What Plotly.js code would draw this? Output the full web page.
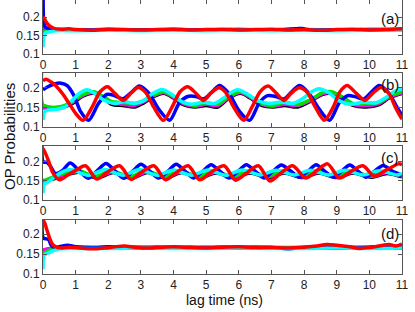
<!DOCTYPE html>
<html><head><meta charset="utf-8">
<script src="https://cdn.plot.ly/plotly-3.0.1.min.js"></script>
<style>html,body{margin:0;padding:0;background:#fff}#chart{width:415px;height:312px}</style>
</head><body><div id="chart"></div>
<script>
// ---------- Panel (a) ----------
const aRedT = [0,0.05,0.1,0.2,0.3,0.4,0.6,0.8,1.0,1.5,2,2.5,3,3.5,4,4.5,5,5.5,6,6.5,7,7.5,8,8.5,9,9.5,10,10.5,11];
const aRedV = [0.2,0.195,0.186,0.176,0.171,0.168,0.167,0.168,0.166,0.164,0.167,0.166,0.165,0.166,0.167,0.165,0.166,0.167,0.165,0.166,0.167,0.165,0.166,0.164,0.166,0.167,0.165,0.166,0.168];
const aBlueT = [0,0.02,0.05,0.1,0.2,0.3,0.5,1,2,3,4,5,6,7,7.85,7.95,8.1,9,10,11];
const aBlueV = [0.3,0.19,0.176,0.171,0.168,0.166,0.166,0.165,0.166,0.165,0.166,0.165,0.166,0.165,0.169,0.169,0.166,0.165,0.166,0.166];
const aGreenT = [0,0.05,0.15,0.3,0.6,1,2,3,4,5,6,7,8,9,10,11];
const aGreenV = [0.158,0.16,0.162,0.165,0.166,0.165,0.166,0.165,0.166,0.165,0.166,0.165,0.166,0.165,0.166,0.165];
const aCyanT = [0,0.03,0.08,0.2,0.4,1,2,3,4,5,6,7,8,9,10,11];
const aCyanV = [0.118,0.15,0.157,0.16,0.163,0.163,0.164,0.163,0.164,0.163,0.164,0.163,0.164,0.163,0.164,0.164];
const aMagT = [0,0.015,0.05,0.2,0.5,11];
const aMagV = [0.3,0.17,0.168,0.166,0.165,0.165];
const aBlackT = [0,0.05,0.2,0.5,11];
const aBlackV = [0.155,0.16,0.164,0.165,0.165];

// ---------- Panel (b) ----------
const bRedT = [0,0.1,0.25,0.4,0.6,0.8,1.0,1.23,1.5,1.75,1.98,2.2,2.46,2.7,2.92,3.15,3.4,3.69,3.95,4.2,4.44,4.7,4.92,5.15,5.39,5.6,5.85,6.15,6.4,6.65,6.9,7.15,7.38,7.6,7.85,8.1,8.35,8.62,8.9,9.1,9.32,9.6,9.86,10.1,10.35,10.6,10.8,11.0];
const bRedV = [0.218,0.222,0.215,0.205,0.185,0.16,0.135,0.117,0.15,0.19,0.203,0.186,0.168,0.187,0.201,0.188,0.15,0.117,0.15,0.19,0.203,0.185,0.168,0.187,0.2,0.188,0.15,0.117,0.15,0.19,0.205,0.186,0.168,0.186,0.2,0.188,0.15,0.117,0.152,0.19,0.206,0.186,0.168,0.186,0.201,0.186,0.15,0.12];
const bBlueT = [0,0.15,0.35,0.55,0.75,0.95,1.15,1.4,1.7,1.95,2.2,2.45,2.7,2.95,3.25,3.55,3.88,4.18,4.43,4.68,4.93,5.18,5.41,5.7,6.02,6.33,6.63,6.88,7.13,7.38,7.62,7.86,8.15,8.47,8.78,9.08,9.33,9.58,9.83,10.07,10.3,10.6,10.85,11.0];
const bBlueV = [0.195,0.203,0.21,0.212,0.205,0.18,0.14,0.117,0.16,0.183,0.18,0.172,0.188,0.205,0.186,0.145,0.117,0.162,0.178,0.178,0.172,0.19,0.206,0.185,0.14,0.117,0.162,0.18,0.178,0.172,0.19,0.206,0.186,0.145,0.117,0.162,0.18,0.177,0.172,0.19,0.206,0.186,0.15,0.13];
const bGreenT = [0,0.15,0.35,0.6,0.9,1.2,1.55,1.85,2.1,2.4,2.8,3.1,3.4,3.7,4.0,4.3,4.65,5.0,5.35,5.7,6.05,6.35,6.7,7.05,7.4,7.8,8.2,8.55,8.85,9.15,9.5,9.9,10.3,10.6,11.0];
const bGreenV = [0.156,0.152,0.15,0.153,0.165,0.182,0.19,0.178,0.165,0.163,0.16,0.168,0.182,0.19,0.178,0.162,0.155,0.162,0.158,0.178,0.19,0.178,0.16,0.155,0.163,0.157,0.17,0.187,0.19,0.178,0.16,0.16,0.163,0.178,0.19];
const bCyanT = [0,0.04,0.15,0.4,0.65,0.9,1.1,1.35,1.6,1.9,2.2,2.5,2.8,3.1,3.35,3.65,3.95,4.25,4.55,4.9,5.25,5.55,5.95,6.25,6.6,6.95,7.3,7.65,7.95,8.2,8.45,8.75,9.05,9.4,9.8,10.2,10.5,10.75,11.0];
const bCyanV = [0.118,0.138,0.143,0.145,0.15,0.168,0.185,0.195,0.185,0.167,0.16,0.165,0.16,0.168,0.185,0.196,0.183,0.165,0.158,0.163,0.16,0.175,0.195,0.185,0.166,0.16,0.164,0.16,0.172,0.188,0.198,0.188,0.168,0.158,0.163,0.162,0.175,0.19,0.198];
const bMagT = [0,0.02,0.3,0.6,0.9,1.2,1.55,1.85,2.1,2.45,2.8,3.1,3.4,3.7,4.0,4.3,4.65,5.0,5.35,5.7,6.05,6.35,6.7,7.05,7.4,7.8,8.2,8.55,8.85,9.15,9.5,9.9,10.3,10.6,11.0];
const bMagV = [0.3,0.15,0.149,0.152,0.163,0.18,0.188,0.176,0.162,0.158,0.155,0.165,0.18,0.188,0.176,0.16,0.153,0.158,0.155,0.176,0.188,0.176,0.158,0.153,0.158,0.155,0.168,0.185,0.188,0.176,0.158,0.155,0.16,0.176,0.188];
const bBlackT = [0,0.3,0.6,0.9,1.2,1.55,1.85,2.1,2.45,2.8,3.1,3.4,3.7,4.0,4.3,4.65,5.0,5.35,5.7,6.05,6.35,6.7,7.05,7.4,7.8,8.2,8.55,8.85,9.15,9.5,9.9,10.3,10.6,11.0];
const bBlackV = [0.15,0.148,0.15,0.16,0.178,0.186,0.174,0.158,0.155,0.151,0.162,0.178,0.186,0.174,0.157,0.151,0.155,0.151,0.174,0.186,0.174,0.155,0.151,0.155,0.151,0.166,0.183,0.186,0.174,0.155,0.151,0.157,0.174,0.186];

// ---------- Panel (c) ----------
const cBlueT = [0,0.01,0.12,0.22,0.38,0.6,0.83,1.1,1.38,1.65,1.93,2.2,2.47,2.75,3.0,3.27,3.54,3.82,4.08,4.35,4.62,4.9,5.15,5.42,5.69,5.97,6.23,6.5,6.77,7.05,7.3,7.58,7.85,8.12,8.37,8.63,8.9,9.15,9.4,9.65,9.9,10.15,10.42,10.7,11.0];
const cBlueV = [0.3,0.2,0.199,0.19,0.17,0.178,0.197,0.178,0.157,0.176,0.196,0.177,0.157,0.176,0.194,0.176,0.158,0.175,0.194,0.176,0.158,0.176,0.193,0.176,0.158,0.175,0.193,0.176,0.158,0.176,0.192,0.177,0.16,0.176,0.193,0.176,0.16,0.176,0.192,0.176,0.16,0.175,0.191,0.176,0.165];
const cRedT = [0,0.08,0.18,0.3,0.5,0.75,1.0,1.3,1.65,1.95,2.35,2.7,3.0,3.4,3.75,4.1,4.45,4.8,5.15,5.55,5.9,6.25,6.6,6.95,7.3,7.65,8.05,8.4,8.72,9.08,9.45,9.8,10.15,10.5,10.9,11.0];
const cRedV = [0.235,0.222,0.2,0.172,0.153,0.165,0.178,0.19,0.155,0.172,0.19,0.154,0.172,0.19,0.153,0.173,0.19,0.153,0.173,0.19,0.152,0.172,0.19,0.15,0.172,0.19,0.158,0.178,0.195,0.158,0.176,0.19,0.163,0.178,0.195,0.193];
const cGreenT = [0,0.1,0.3,0.55,1.05,1.6,2.1,2.65,3.15,3.7,4.2,4.75,5.25,5.8,6.3,6.85,7.35,7.9,8.4,8.95,9.45,10.0,10.5,11.0];
const cGreenV = [0.152,0.153,0.16,0.168,0.178,0.162,0.177,0.161,0.177,0.162,0.177,0.162,0.176,0.162,0.176,0.163,0.176,0.163,0.176,0.163,0.176,0.164,0.175,0.165];
const cCyanT = [0,0.04,0.15,0.35,0.55,0.85,1.4,1.9,2.45,2.95,3.5,4.0,4.55,5.05,5.6,6.1,6.65,7.15,7.7,8.2,8.75,9.25,9.8,10.3,10.85,11.0];
const cCyanV = [0.118,0.142,0.147,0.16,0.172,0.18,0.165,0.18,0.165,0.18,0.165,0.179,0.165,0.179,0.165,0.179,0.166,0.178,0.166,0.178,0.166,0.178,0.166,0.177,0.166,0.17];
const cMagT = [0,0.1,0.3,0.6,1.1,1.65,2.15,2.7,3.2,3.75,4.25,4.8,5.3,5.85,6.35,6.9,7.4,7.95,8.45,9.0,9.5,10.05,10.55,11.0];
const cMagV = [0.15,0.151,0.157,0.165,0.175,0.16,0.174,0.159,0.174,0.16,0.174,0.16,0.173,0.16,0.173,0.161,0.173,0.161,0.173,0.161,0.173,0.162,0.172,0.163];
const cBlackT = [0,0.3,0.6,1.1,1.65,2.15,2.7,3.2,3.75,4.25,4.8,5.3,5.85,6.35,6.9,7.4,7.95,8.45,9.0,9.5,10.05,10.55,11.0];
const cBlackV = [0.15,0.155,0.163,0.173,0.158,0.172,0.157,0.172,0.158,0.172,0.158,0.171,0.158,0.171,0.159,0.171,0.159,0.171,0.159,0.171,0.16,0.17,0.161];

// ---------- Panel (d) ----------
const dRedT = [0,0.05,0.12,0.2,0.3,0.45,0.6,0.8,1.0,1.3,1.6,1.9,2.2,2.5,2.8,3.1,3.5,4.0,4.5,5.0,5.5,6.0,6.5,7.0,7.5,8.0,8.4,8.7,9.0,9.4,9.7,10.0,10.3,10.6,10.8,11.0];
const dRedV = [0.235,0.228,0.21,0.19,0.173,0.166,0.165,0.167,0.166,0.164,0.163,0.165,0.168,0.17,0.167,0.165,0.166,0.168,0.166,0.165,0.167,0.168,0.166,0.166,0.165,0.167,0.17,0.174,0.172,0.168,0.164,0.166,0.17,0.174,0.17,0.175];
const dBlueT = [0,0.01,0.1,0.18,0.25,0.35,0.5,0.75,1.0,1.5,2,2.5,3,3.5,4,4.5,5,5.5,6,6.5,7,7.5,8,8.5,9,9.5,10,10.5,11];
const dBlueV = [0.3,0.19,0.188,0.185,0.172,0.166,0.168,0.172,0.168,0.166,0.168,0.167,0.166,0.167,0.166,0.167,0.166,0.167,0.166,0.167,0.166,0.163,0.166,0.169,0.167,0.166,0.167,0.17,0.168];
const dGreenT = [0,0.1,0.2,0.35,0.6,1,2,3,4,5,6,7,8,9,10,11];
const dGreenV = [0.152,0.155,0.16,0.165,0.167,0.166,0.166,0.167,0.166,0.166,0.167,0.166,0.166,0.167,0.166,0.167];
const dCyanT = [0,0.04,0.15,0.3,0.5,1,2,3,4,5,6,7,8,9,10,11];
const dCyanV = [0.112,0.148,0.152,0.158,0.163,0.164,0.164,0.165,0.164,0.164,0.165,0.164,0.164,0.165,0.164,0.165];
const dMagT = [0,0.1,0.3,0.6,11];
const dMagV = [0.16,0.162,0.165,0.166,0.166];
const dBlackT = [0,0.1,0.3,0.6,11];
const dBlackV = [0.158,0.161,0.164,0.165,0.165];

const xTicks = [0,1,2,3,4,5,6,7,8,9,10,11];
const yTicks = [0.1,0.15,0.2];
const panelLabels = ['(a)','(b)','(c)','(d)'];

const COL = {k:'#000000', m:'#ff00ff', g:'#00e000', b:'#0000ff', c:'#00ffff', r:'#ff0000'};

const panels = [
  {k:[aBlackT,aBlackV], m:[aMagT,aMagV], g:[aGreenT,aGreenV], b:[aBlueT,aBlueV], c:[aCyanT,aCyanV], r:[aRedT,aRedV]},
  {k:[bBlackT,bBlackV], m:[bMagT,bMagV], g:[bGreenT,bGreenV], b:[bBlueT,bBlueV], c:[bCyanT,bCyanV], r:[bRedT,bRedV]},
  {k:[cBlackT,cBlackV], m:[cMagT,cMagV], g:[cGreenT,cGreenV], b:[cBlueT,cBlueV], c:[cCyanT,cCyanV], r:[cRedT,cRedV]},
  {k:[dBlackT,dBlackV], m:[dMagT,dMagV], g:[dGreenT,dGreenV], b:[dBlueT,dBlueV], c:[dCyanT,dCyanV], r:[dRedT,dRedV]}
];

const traces = [];
panels.forEach((p, i) => {
  const sfx = i === 0 ? '' : String(i + 1);
  ['k','m','g','b','c','r'].forEach(key => {
    traces.push({
      x: p[key][0], y: p[key][1], type: 'scatter', mode: 'lines',
      xaxis: 'x' + sfx, yaxis: 'y' + sfx,
      line: {color: COL[key], width: 3.5, shape: 'spline', smoothing: 0.8},
      showlegend: false, hoverinfo: 'skip'
    });
  });
});

const H = 274; // plot-area height in px
const doms = [[0,54],[73,127],[146,200],[220,274]];
const ranges = [[0.1,0.246],[0.1,0.238],[0.1,0.242],[0.1,0.235]];
const font = {family: 'Liberation Sans, Arial, sans-serif', size: 12, color: '#222'};

const layout = {
  width: 415, height: 312,
  margin: {l: 43, r: 13, t: 0, b: 38},
  paper_bgcolor: '#fff', plot_bgcolor: '#fff',
  font: font, showlegend: false,
  annotations: []
};
doms.forEach((d, i) => {
  const sfx = i === 0 ? '' : String(i + 1);
  layout['xaxis' + sfx] = {
    anchor: 'y' + sfx, range: [0, 11], tickvals: xTicks, ticktext: xTicks.map(String),
    ticks: 'inside', ticklen: 4, tickcolor: '#555', mirror: 'allticks',
    showline: true, linecolor: '#555', linewidth: 1, showgrid: false, zeroline: false,
    tickfont: font
  };
  layout['yaxis' + sfx] = {
    anchor: 'x' + sfx, domain: [1 - d[1] / H, 1 - d[0] / H], range: ranges[i],
    tickvals: yTicks, ticktext: yTicks.map(String),
    ticks: 'inside', ticklen: 4, tickcolor: '#555', mirror: 'allticks',
    showline: true, linecolor: '#555', linewidth: 1, showgrid: false, zeroline: false,
    tickfont: font
  };
});
const labY = [19, 84, 157, 233];
panelLabels.forEach((t, i) => {
  layout.annotations.push({
    text: t, xref: 'paper', yref: 'paper', x: (390 - 43) / 359, y: 1 - labY[i] / H,
    xanchor: 'center', yanchor: 'middle', showarrow: false,
    font: {family: 'Liberation Sans, Arial, sans-serif', size: 15, color: '#111'}
  });
});
layout.annotations.push({
  text: 'lag time (ns)', xref: 'paper', yref: 'paper', x: (224 - 43) / 359, y: (H - 300) / H,
  xanchor: 'center', yanchor: 'middle', showarrow: false,
  font: {family: 'Liberation Sans, Arial, sans-serif', size: 14, color: '#111'}
});
layout.annotations.push({
  text: 'OP Probabilities', xref: 'paper', yref: 'paper', x: (9 - 43) / 359, y: 1 - 137 / H,
  xanchor: 'center', yanchor: 'middle', showarrow: false, textangle: -90,
  font: {family: 'Liberation Sans, Arial, sans-serif', size: 15, color: '#111'}
});

Plotly.newPlot('chart', traces, layout, {staticPlot: true, displayModeBar: false});
</script></body></html>
